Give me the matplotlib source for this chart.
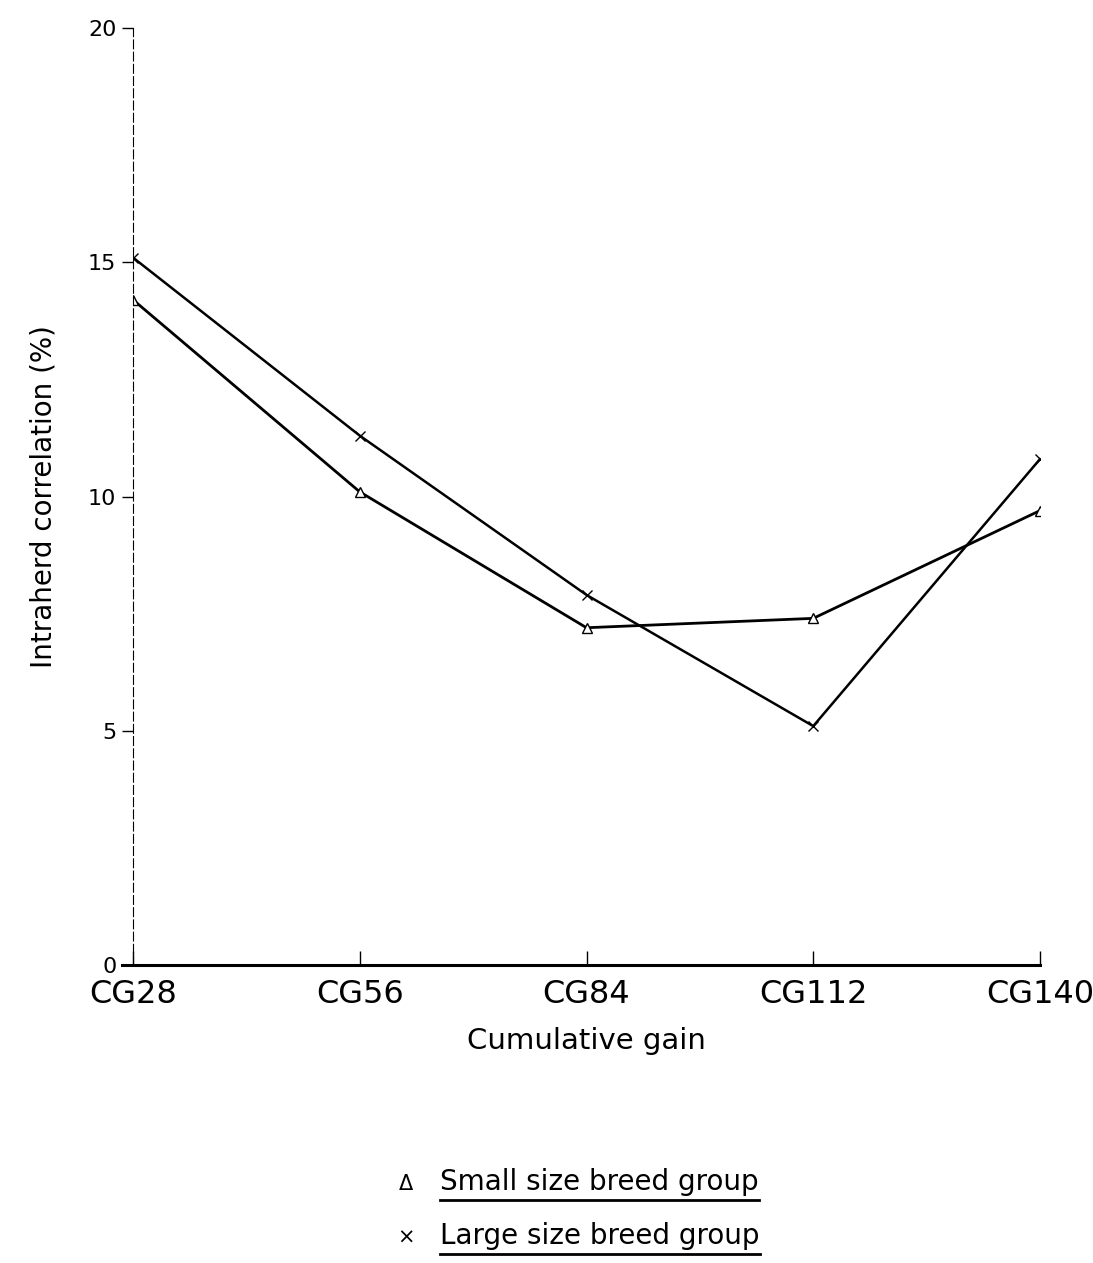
import matplotlib
matplotlib.use("Agg")
import matplotlib.pyplot as plt
from matplotlib.lines import Line2D

categories = ["CG28", "CG56", "CG84", "CG112", "CG140"]
small_breed = [14.2, 10.1, 7.2, 7.4, 9.7]
large_breed = [15.1, 11.3, 7.9, 5.1, 10.8]
y_ticks = [0, 5, 10, 15, 20]

fig = plt.figure(figsize=(10.93, 12.63), dpi=100)
ax = fig.add_axes([0.1217, 0.2359, 0.8298, 0.7419])

x = list(range(len(categories)))
ax.plot(x, small_breed, color="black", lw=2.0, marker="^", mfc="white",
        mec="black", ms=7, mew=1.0)
ax.plot(x, large_breed, color="black", lw=1.8, marker="x", mec="black",
        ms=7, mew=1.0)

ax.set_xlim(0, 4)
ax.set_ylim(0, 20)
ax.set_xticks(x)
ax.set_xticklabels(categories, fontsize=23)
ax.set_yticks(y_ticks)
ax.set_yticklabels([str(v) for v in y_ticks], fontsize=16)
ax.tick_params(axis="x", direction="in", length=10, width=1, pad=10)
ax.tick_params(axis="y", direction="out", length=8, width=1, pad=4)
for s in ["top", "right"]:
    ax.spines[s].set_visible(False)
ax.spines["left"].set_linewidth(0.8)
ax.spines["left"].set_linestyle((0, (8, 3)))
ax.spines["bottom"].set_linewidth(2.2)
ax.spines["bottom"].set_bounds(-0.05, 4)
ax.set_xlabel("Cumulative gain", fontsize=21, labelpad=12)
ax.set_ylabel("Intraherd correlation (%)", fontsize=20, labelpad=22)

# legend at bottom
fig.canvas.draw()
r = fig.canvas.get_renderer()
entries = [("\u0394", "Small size breed group", 0.0575),
           ("\u00d7", "Large size breed group", 0.0150)]
for sym, label, yy in entries:
    fig.text(0.371, yy, sym, fontsize=15, ha="center", va="baseline")
    t = fig.text(0.403, yy, label, fontsize=20, ha="left", va="baseline")
    bb = t.get_window_extent(renderer=r).transformed(fig.transFigure.inverted())
    fig.add_artist(Line2D([bb.x0, bb.x1], [yy - 0.008, yy - 0.008],
                          color="black", lw=2.0, transform=fig.transFigure))

fig.savefig("out.png", dpi=100, facecolor="white")
